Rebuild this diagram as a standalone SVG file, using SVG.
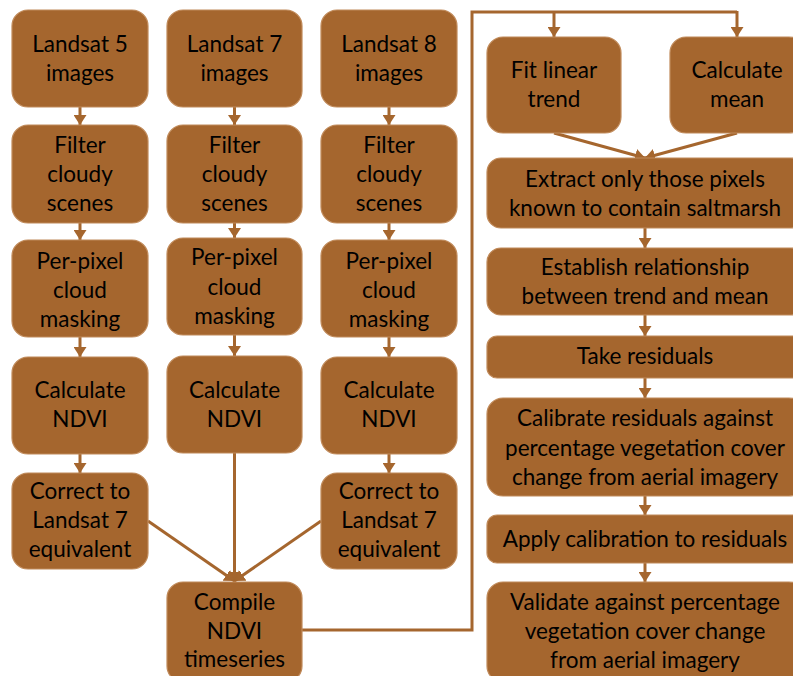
<svg xmlns="http://www.w3.org/2000/svg" width="793" height="676" viewBox="0 0 793 676">
<defs>
<style>
.box{fill:#A5662E;stroke:#C08A5A;stroke-width:1.2}
.t{font-family:Lato,"Liberation Sans",sans-serif;font-size:22.5px;fill:#000;text-anchor:middle}
.c{fill:none;stroke:#A5662E;stroke-width:3}
</style>
<marker id="ah" viewBox="0 0 10 13" refX="10" refY="6.5" markerWidth="10" markerHeight="13" markerUnits="userSpaceOnUse" orient="auto">
<path d="M0,0 L10,6.5 L0,13 z" fill="#A5662E"/>
</marker>
</defs>
<rect width="793" height="676" fill="#fff"/>
<g id="connectors">
<line class="c" x1="80" y1="107" x2="80" y2="125" marker-end="url(#ah)"/>
<line class="c" x1="80" y1="223" x2="80" y2="240" marker-end="url(#ah)"/>
<line class="c" x1="80" y1="337" x2="80" y2="357" marker-end="url(#ah)"/>
<line class="c" x1="80" y1="454" x2="80" y2="473" marker-end="url(#ah)"/>
<line class="c" x1="234.5" y1="107" x2="234.5" y2="125" marker-end="url(#ah)"/>
<line class="c" x1="234.5" y1="223" x2="234.5" y2="238" marker-end="url(#ah)"/>
<line class="c" x1="234.5" y1="335" x2="234.5" y2="356" marker-end="url(#ah)"/>
<line class="c" x1="234.5" y1="453" x2="234.5" y2="582" marker-end="url(#ah)"/>
<line class="c" x1="389" y1="107" x2="389" y2="125" marker-end="url(#ah)"/>
<line class="c" x1="389" y1="223" x2="389" y2="240" marker-end="url(#ah)"/>
<line class="c" x1="389" y1="337" x2="389" y2="357" marker-end="url(#ah)"/>
<line class="c" x1="389" y1="454" x2="389" y2="473" marker-end="url(#ah)"/>
<line class="c" x1="148" y1="521" x2="234.5" y2="581" marker-end="url(#ah)"/>
<line class="c" x1="321" y1="521" x2="234.5" y2="581" marker-end="url(#ah)"/>
<polyline class="c" points="302,630 472,630 472,12 737,12"/>
<line class="c" x1="554" y1="12" x2="554" y2="37" marker-end="url(#ah)"/>
<line class="c" x1="737" y1="11" x2="737" y2="37" marker-end="url(#ah)"/>
<line class="c" x1="554" y1="133" x2="645" y2="158" marker-end="url(#ah)"/>
<line class="c" x1="737" y1="133" x2="645" y2="158" marker-end="url(#ah)"/>
<line class="c" x1="645" y1="228" x2="645" y2="248" marker-end="url(#ah)"/>
<line class="c" x1="645" y1="315" x2="645" y2="336" marker-end="url(#ah)"/>
<line class="c" x1="645" y1="378" x2="645" y2="398" marker-end="url(#ah)"/>
<line class="c" x1="645" y1="496" x2="645" y2="515" marker-end="url(#ah)"/>
<line class="c" x1="645" y1="563" x2="645" y2="582" marker-end="url(#ah)"/>
</g>
<g id="landsat5"><rect class="box" x="12" y="10" width="136" height="97" rx="16"/><text class="t" x="80" y="52">Landsat 5</text><text class="t" x="80" y="81">images</text></g>
<g id="filter1"><rect class="box" x="12" y="125" width="136" height="98" rx="16"/><text class="t" x="80" y="153">Filter</text><text class="t" x="80" y="182">cloudy</text><text class="t" x="80" y="211">scenes</text></g>
<g id="mask1"><rect class="box" x="12" y="240" width="136" height="97" rx="16"/><text class="t" x="80" y="269">Per-pixel</text><text class="t" x="80" y="298">cloud</text><text class="t" x="80" y="327">masking</text></g>
<g id="ndvi1"><rect class="box" x="12" y="357" width="136" height="97" rx="16"/><text class="t" x="80" y="398">Calculate</text><text class="t" x="80" y="427">NDVI</text></g>
<g id="correct1"><rect class="box" x="12" y="473" width="136" height="96" rx="16"/><text class="t" x="80" y="499">Correct to</text><text class="t" x="80" y="528">Landsat 7</text><text class="t" x="80" y="557">equivalent</text></g>

<g id="landsat7"><rect class="box" x="167" y="10" width="135" height="97" rx="16"/><text class="t" x="234.5" y="52">Landsat 7</text><text class="t" x="234.5" y="81">images</text></g>
<g id="filter2"><rect class="box" x="167" y="125" width="135" height="98" rx="16"/><text class="t" x="234.5" y="153">Filter</text><text class="t" x="234.5" y="182">cloudy</text><text class="t" x="234.5" y="211">scenes</text></g>
<g id="mask2"><rect class="box" x="167" y="238" width="135" height="97" rx="16"/><text class="t" x="234.5" y="265">Per-pixel</text><text class="t" x="234.5" y="295">cloud</text><text class="t" x="234.5" y="324">masking</text></g>
<g id="ndvi2"><rect class="box" x="167" y="356" width="135" height="97" rx="16"/><text class="t" x="234.5" y="398">Calculate</text><text class="t" x="234.5" y="427">NDVI</text></g>
<g id="compile"><rect class="box" x="167" y="582" width="135" height="100" rx="16"/><text class="t" x="234.5" y="610">Compile</text><text class="t" x="234.5" y="639">NDVI</text><text class="t" x="234.5" y="667">timeseries</text></g>

<g id="landsat8"><rect class="box" x="321" y="10" width="136" height="97" rx="16"/><text class="t" x="389" y="52">Landsat 8</text><text class="t" x="389" y="81">images</text></g>
<g id="filter3"><rect class="box" x="321" y="125" width="136" height="98" rx="16"/><text class="t" x="389" y="153">Filter</text><text class="t" x="389" y="182">cloudy</text><text class="t" x="389" y="211">scenes</text></g>
<g id="mask3"><rect class="box" x="321" y="240" width="136" height="97" rx="16"/><text class="t" x="389" y="269">Per-pixel</text><text class="t" x="389" y="298">cloud</text><text class="t" x="389" y="327">masking</text></g>
<g id="ndvi3"><rect class="box" x="321" y="357" width="136" height="97" rx="16"/><text class="t" x="389" y="398">Calculate</text><text class="t" x="389" y="427">NDVI</text></g>
<g id="correct3"><rect class="box" x="321" y="473" width="136" height="96" rx="16"/><text class="t" x="389" y="499">Correct to</text><text class="t" x="389" y="528">Landsat 7</text><text class="t" x="389" y="557">equivalent</text></g>

<g id="trend"><rect class="box" x="487" y="37" width="134" height="96" rx="16"/><text class="t" x="554" y="78">Fit linear</text><text class="t" x="554" y="107">trend</text></g>
<g id="mean"><rect class="box" x="670" y="37" width="135" height="96" rx="16"/><text class="t" x="737" y="78">Calculate</text><text class="t" x="737" y="107">mean</text></g>
<g id="extract"><rect class="box" x="487" y="158" width="318" height="70" rx="14"/><text class="t" x="645" y="187">Extract only those pixels</text><text class="t" x="645" y="216">known to contain saltmarsh</text></g>
<g id="establish"><rect class="box" x="487" y="248" width="318" height="67" rx="14"/><text class="t" x="645" y="275">Establish relationship</text><text class="t" x="645" y="304">between trend and mean</text></g>
<g id="residuals"><rect class="box" x="487" y="336" width="318" height="42" rx="10"/><text class="t" x="645" y="364">Take residuals</text></g>
<g id="calibrate"><rect class="box" x="487" y="398" width="318" height="98" rx="16"/><text class="t" x="645" y="426">Calibrate residuals against</text><text class="t" x="645" y="456">percentage vegetation cover</text><text class="t" x="645" y="485">change from aerial imagery</text></g>
<g id="apply"><rect class="box" x="487" y="515" width="318" height="48" rx="10"/><text class="t" x="645" y="547">Apply calibration to residuals</text></g>
<g id="validate"><rect class="box" x="487" y="582" width="318" height="100" rx="16"/><text class="t" x="645" y="610">Validate against percentage</text><text class="t" x="645" y="639">vegetation cover change</text><text class="t" x="645" y="668">from aerial imagery</text></g>
</svg>
